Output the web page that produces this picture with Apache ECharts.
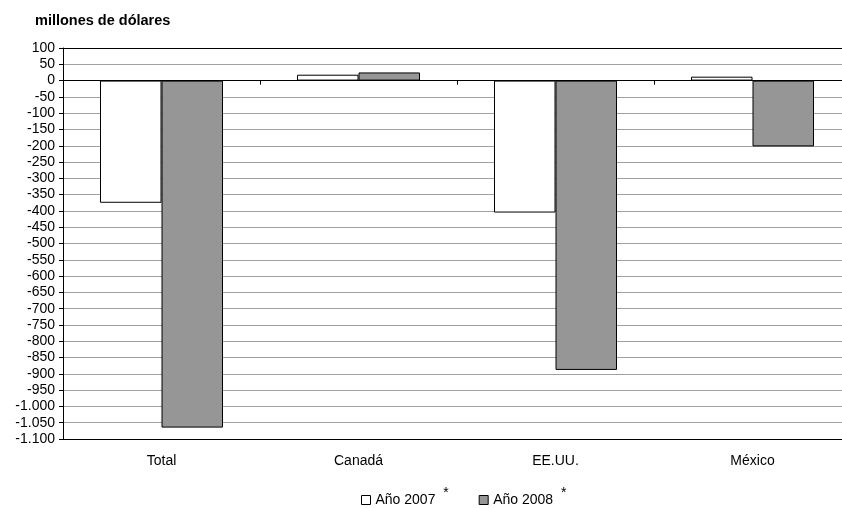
<!DOCTYPE html>
<html>
<head>
<meta charset="utf-8">
<script src="https://cdn.jsdelivr.net/npm/echarts@6/dist/echarts.min.js"></script>
<style>
html,body{margin:0;padding:0;background:#fff;overflow:hidden;width:842px;height:508px;}
#chart{width:852px;height:508px;}
</style>
</head>
<body>
<div id="chart"></div>
<script>
var categories = ['Total', 'Canadá', 'EE.UU.', 'México'];
var seriesNames = ['Año 2007', 'Año 2008'];
var values2007 = [-375, 18, -405, 12];
var values2008 = [-1065, 25, -888, -202];
var yMin = -1100, yMax = 100, yStep = 50;
var titleText = 'millones de dólares';

var FONT = 'Liberation Sans';
function fmt(v) {
  var neg = v < 0; var a = Math.abs(v);
  var s = String(a).replace(/\B(?=(\d{3})+(?!\d))/g, '.');
  return (neg ? '-' : '') + s;
}

var chart = echarts.init(document.getElementById('chart'), null, {renderer: 'canvas'});
chart.setOption({
  animation: false,
  backgroundColor: '#ffffff',
  title: {
    text: titleText, left: 30, top: 8,
    textStyle: {fontFamily: FONT, fontSize: 14.5, fontWeight: 'bold', color: '#000'}
  },
  legend: {
    data: seriesNames,
    left: 356, top: 481,
    itemWidth: 9, itemHeight: 9, itemGap: 30, itemStyle: {borderWidth: 1},
    icon: 'rect',
    formatter: function (n) { return '{a|' + n + '}  {s|*}'; },
    textStyle: {
      fontFamily: FONT, fontSize: 14, color: '#000',
      rich: {
        a: {fontFamily: FONT, fontSize: 14, color: '#000'},
        s: {fontFamily: FONT, fontSize: 14, color: '#000', padding: [0, 0, 14, 0]}
      }
    }
  },
  grid: {left: 63, top: 48, right: 1, height: 391},
  xAxis: [{
    type: 'category', data: categories, position: 'bottom',
    axisLine: {onZero: false, lineStyle: {color: '#000', width: 1}},
    axisTick: {show: false},
    axisLabel: {fontFamily: FONT, fontSize: 14, color: '#000', margin: 15},
    splitLine: {show: false}
  }, {
    type: 'category', data: categories, position: 'top',
    axisLine: {onZero: true, lineStyle: {color: '#000', width: 1}},
    axisTick: {show: true, inside: true, length: 4, lineStyle: {color: '#000'}},
    axisLabel: {show: false},
    splitLine: {show: false}
  }],
  yAxis: {
    type: 'value', min: yMin, max: yMax, interval: yStep,
    axisLine: {show: true, lineStyle: {color: '#000'}},
    axisTick: {show: true, length: 4, lineStyle: {color: '#000'}},
    axisLabel: {fontFamily: FONT, fontSize: 14, color: '#000', margin: 8, formatter: fmt},
    splitLine: {show: true, lineStyle: {color: '#a0a0a0', width: 1}}
  },
  series: [{
    name: seriesNames[0], type: 'bar', xAxisIndex: 0, data: values2007,
    barWidth: 61.5, barGap: '0%',
    itemStyle: {color: '#ffffff', borderColor: '#000', borderWidth: 1},
    markLine: {
      silent: true, symbol: 'none', label: {show: false},
      lineStyle: {color: '#000', type: 'solid', width: 1},
      data: [{yAxis: yMax}]
    }
  }, {
    name: seriesNames[1], type: 'bar', xAxisIndex: 0, data: values2008,
    barWidth: 61.5, barGap: '0%',
    itemStyle: {color: '#969696', borderColor: '#000', borderWidth: 1}
  }]
});
</script>
</body>
</html>
